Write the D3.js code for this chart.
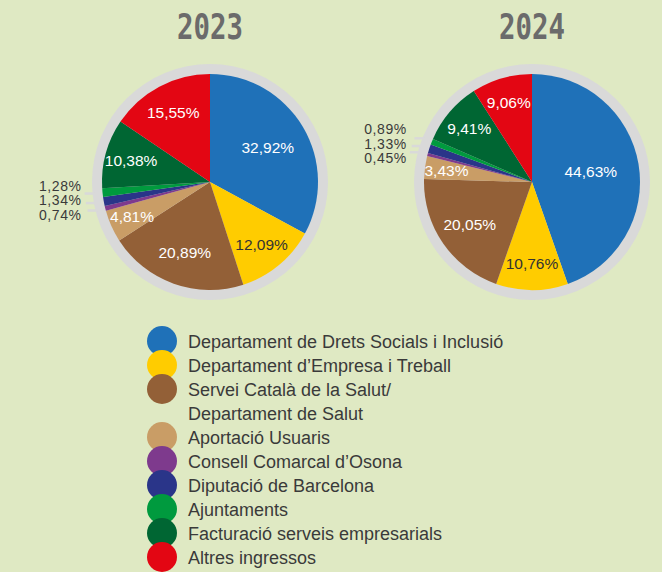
<!DOCTYPE html>
<html>
<head>
<meta charset="utf-8">
<script src="https://cdn.jsdelivr.net/npm/d3@7"></script>
<style>
  html, body { margin: 0; padding: 0; background: #dfe9c3; }
  svg { display: block; }
</style>
</head>
<body>
<div id="chart"></div>
<script>
// chart data
var years = ["2023", "2024"];
var categories = [
    "Departament de Drets Socials i Inclusió",
    "Departament d\u2019Empresa i Treball",
    "Servei Català de la Salut/\nDepartament de Salut",
    "Aportació Usuaris",
    "Consell Comarcal d\u2019Osona",
    "Diputació de Barcelona",
    "Ajuntaments",
    "Facturació serveis empresarials",
    "Altres ingressos"
];
var values2023 = [32.92, 12.09, 20.89, 4.81, 0.74, 1.34, 1.28, 10.38, 15.55];
var values2024 = [44.63, 10.76, 20.05, 3.43, 0.45, 1.33, 0.89, 9.41, 9.06];
var colors = ["#1f71b8", "#ffcc00", "#936037", "#c99d66", "#7e3a8d", "#2a3589", "#009a3e", "#006633", "#e30613"];

var width = 662, height = 572;
var R = 108, ringWidth = 10;

var svg = d3.select("#chart").append("svg")
    .attr("width", width)
    .attr("height", height);

var color = d3.scaleOrdinal().domain(categories).range(colors);
var centerX = d3.scalePoint().domain(years).range([210, 532]);
var cy = 182;

var pie = d3.pie().sort(null).value(function (d) { return d.value; });
var arc = d3.arc().innerRadius(0).outerRadius(R);

function fmt(v) {
    return v.toFixed(2).replace(".", ",") + "%";
}

function drawPie(year, values) {
    var cx = centerX(year);
    var rows = categories.map(function (c, i) { return { cat: c, value: values[i] }; });
    var arcs = pie(rows);

    svg.append("text")
        .attr("x", cx)
        .attr("y", 39)
        .attr("text-anchor", "middle")
        .attr("font-family", "'DejaVu Sans Mono', monospace")
        .attr("font-weight", "bold")
        .attr("font-size", 36)
        .attr("fill", "#6b6b6b")
        .attr("textLength", 66)
        .attr("lengthAdjust", "spacingAndGlyphs")
        .text(year);

    var g = svg.append("g").attr("transform", "translate(" + cx + "," + cy + ")");

    // grey ring
    g.append("circle")
        .attr("r", R + ringWidth)
        .attr("fill", "#d9d9d9");

    g.selectAll("path.slice")
        .data(arcs)
        .enter()
        .append("path")
        .attr("class", "slice")
        .attr("d", arc)
        .attr("fill", function (d) { return color(d.data.cat); });

    // labels inside the bigger slices, big slices sit nearer the centre
    g.selectAll("text.inner")
        .data(arcs.filter(function (d) { return d.data.value >= 2; }))
        .enter()
        .append("text")
        .attr("class", "inner")
        .attr("x", function (d) {
            var a = (d.startAngle + d.endAngle) / 2;
            return Math.sin(a) * R * (0.82 - 0.006 * d.data.value);
        })
        .attr("y", function (d) {
            var a = (d.startAngle + d.endAngle) / 2;
            return -Math.cos(a) * R * (0.82 - 0.006 * d.data.value);
        })
        .attr("text-anchor", "middle")
        .attr("dominant-baseline", "central")
        .attr("font-family", "'Liberation Sans', Arial, sans-serif")
        .attr("font-size", 15.5)
        .attr("fill", function (d) { return d.data.cat === categories[1] ? "#333333" : "#ffffff"; })
        .text(function (d) { return fmt(d.data.value); });

    // small slices: ticks on the ring and stacked labels outside
    var small = arcs.filter(function (d) { return d.data.value < 2; });
    var ticks = small.map(function (d) {
        var a = (d.startAngle + d.endAngle) / 2;
        var r = R + ringWidth - 1;
        return { d: d, x: Math.sin(a) * r, y: -Math.cos(a) * r };
    });
    g.selectAll("line.tick")
        .data(ticks)
        .enter()
        .append("line")
        .attr("class", "tick")
        .attr("x1", function (t) { return t.x - 9; })
        .attr("x2", function (t) { return t.x + 1; })
        .attr("y1", function (t) { return t.y; })
        .attr("y2", function (t) { return t.y; })
        .attr("stroke", "#d9d9d9")
        .attr("stroke-width", 2.5);

    var midY = d3.mean(ticks, function (t) { return t.y; }) - 2;
    var leftX = d3.min(ticks, function (t) { return t.x; }) - 12;
    var ordered = ticks.slice().reverse();
    g.selectAll("text.outer")
        .data(ordered)
        .enter()
        .append("text")
        .attr("class", "outer")
        .attr("x", leftX)
        .attr("y", function (t, i) { return midY + (i - (ordered.length - 1) / 2) * 14.4; })
        .attr("text-anchor", "end")
        .attr("dominant-baseline", "central")
        .attr("font-family", "'Liberation Sans', Arial, sans-serif")
        .attr("font-size", 14)
        .attr("letter-spacing", 0.6)
        .attr("fill", "#3a3a3a")
        .text(function (t) { return fmt(t.d.data.value); });
}

drawPie(years[0], values2023);
drawPie(years[1], values2024);

// legend
var legendRows = [];
categories.forEach(function (c) {
    c.split("\n").forEach(function (line, j) {
        legendRows.push({ cat: c, text: line, first: j === 0 });
    });
});
var rowY = d3.scaleLinear().domain([0, 1]).range([341, 365]);

var legend = svg.append("g");
legend.selectAll("circle")
    .data(legendRows.map(function (r, i) { r.i = i; return r; }).filter(function (r) { return r.first; }))
    .enter()
    .append("circle")
    .attr("cx", 162)
    .attr("cy", function (r) { return rowY(r.i); })
    .attr("r", 15)
    .attr("fill", function (r) { return color(r.cat); });

legend.selectAll("text")
    .data(legendRows)
    .enter()
    .append("text")
    .attr("x", 188)
    .attr("y", function (r, i) { return rowY(i) + 7; })
    .attr("font-family", "'Liberation Sans', Arial, sans-serif")
    .attr("font-size", 18)
    .attr("fill", "#3a3a3a")
    .text(function (r) { return r.text; });
</script>
</body>
</html>
